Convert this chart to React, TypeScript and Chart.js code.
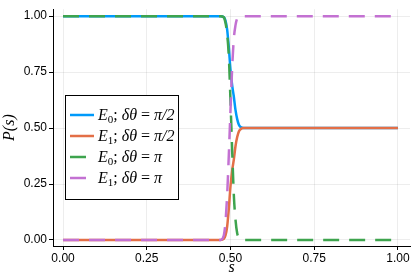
import React, { useEffect, useRef } from "react";
import { Chart, registerables } from "chart.js";

Chart.register(...registerables);

const sValues = [0, 0.47, 0.48, 0.485, 0.49, 0.495, 0.5, 0.505, 0.51, 0.515, 0.52, 0.525, 0.53, 0.54, 1];
const e0HalfPi = [1, 1, 0.995, 0.98, 0.94, 0.86, 0.76, 0.69, 0.64, 0.58, 0.54, 0.515, 0.505, 0.5, 0.5];
const e1HalfPi = [0, 0, 0.005, 0.02, 0.06, 0.14, 0.24, 0.31, 0.36, 0.42, 0.46, 0.485, 0.495, 0.5, 0.5];
const e0Pi = [1, 1, 0.995, 0.97, 0.92, 0.82, 0.62, 0.4, 0.2, 0.09, 0.03, 0.01, 0, 0, 0];
const e1Pi = [0, 0, 0.02, 0.08, 0.2, 0.38, 0.58, 0.77, 0.9, 0.96, 0.99, 1, 1, 1, 1];

const seriesLabels = ["E\u2080; \u03b4\u03b8 = \u03c0/2", "E\u2081; \u03b4\u03b8 = \u03c0/2", "E\u2080; \u03b4\u03b8 = \u03c0", "E\u2081; \u03b4\u03b8 = \u03c0"];
const levelIndex = ["0", "1", "0", "1"];
const angleLabels = ["\u03c0/2", "\u03c0/2", "\u03c0", "\u03c0"];
const seriesColors = ["#009AFA", "#E36F47", "#3EA44E", "#C371D2"];
const seriesDashed = [false, false, true, true];
const tickValues = [0, 0.25, 0.5, 0.75, 1];

const TICK_FONT = "Liberation Sans, Arial, sans-serif";
const MATH_FONT = "Liberation Serif, DejaVu Serif, serif";

export default function App() {
  const ref = useRef<HTMLCanvasElement>(null);
  useEffect(() => {
    document.body.style.margin = "0";
    const series = [e0HalfPi, e1HalfPi, e0Pi, e1Pi];
    const legendPlugin = {
      id: "boxLegend",
      afterDraw(chart: any) {
        const ctx = chart.ctx;
        const x0 = 65, y0 = 95, w = 113, h = 104;
        ctx.save();
        ctx.fillStyle = "#fff";
        ctx.fillRect(x0, y0, w, h);
        ctx.strokeStyle = "#000";
        ctx.lineWidth = 1;
        ctx.strokeRect(x0 + 0.5, y0 + 0.5, w, h);
        levelIndex.forEach((idx, i) => {
          const y = 115 + i * 21;
          ctx.strokeStyle = seriesColors[i];
          ctx.lineWidth = 2.5;
          ctx.setLineDash([]);
          ctx.beginPath();
          ctx.moveTo(70, y);
          ctx.lineTo(seriesDashed[i] ? 86 : 94, y);
          ctx.stroke();
          ctx.fillStyle = "#000";
          ctx.textBaseline = "alphabetic";
          ctx.textAlign = "left";
          const base = y + 5;
          const segs: [string, string, number][] = [
            ["E", "italic 16px " + MATH_FONT, 0],
            [idx, "11px " + MATH_FONT, 3],
            [";", "16px " + MATH_FONT, 0],
            [" \u03b4\u03b8", "italic 16px " + MATH_FONT, 0],
            [" = ", "16px " + MATH_FONT, 0],
            [angleLabels[i], "italic 16px " + MATH_FONT, 0],
          ];
          let x = 98;
          segs.forEach(([t, f, dy]) => {
            ctx.font = f;
            ctx.fillText(t, x, base + dy);
            x += ctx.measureText(t).width;
          });
        });
        ctx.restore();
      },
    };
    const chart = new Chart(ref.current!, {
      type: "line",
      data: {
        datasets: series.map((vals, i) => ({
          label: seriesLabels[i],
          data: sValues.map((s, k) => ({ x: s, y: vals[k] })),
          borderColor: seriesColors[i],
          backgroundColor: seriesColors[i],
          borderWidth: 2.5,
          borderDash: seriesDashed[i] ? [16, 10] : [],
          pointRadius: 0,
          fill: false,
          cubicInterpolationMode: "monotone",
          order: 4 - i,
        })),
      },
      options: {
        animation: false,
        responsive: false,
        devicePixelRatio: 1,
        layout: { padding: { top: 8, right: 5, left: 0, bottom: 0 } },
        plugins: { legend: { display: false }, tooltip: { enabled: false } },
        scales: {
          x: {
            type: "linear",
            min: -0.03,
            max: 1.036,
            afterBuildTicks: (sc: any) => { sc.ticks = tickValues.map((v) => ({ value: v })); },
            afterFit: (sc: any) => { sc.height = 31; },
            ticks: { font: { family: TICK_FONT, size: 12 }, color: "#000", padding: 1, maxRotation: 0, callback: (v: any) => Number(v).toFixed(2) },
            grid: { color: "rgba(0,0,0,0.07)", tickColor: "#000", tickLength: 4, drawTicks: true },
            border: { color: "#000", width: 1 },
            title: { display: true, text: "s", font: { family: MATH_FONT, size: 16, style: "italic" }, color: "#000", padding: { top: -4, bottom: 0 } },
          },
          y: {
            type: "linear",
            min: -0.027,
            max: 1.031,
            afterBuildTicks: (sc: any) => { sc.ticks = tickValues.map((v) => ({ value: v })); },
            afterFit: (sc: any) => { sc.width = 53; },
            ticks: { font: { family: TICK_FONT, size: 12 }, color: "#000", padding: 2, callback: (v: any) => Number(v).toFixed(2) },
            grid: { color: "rgba(0,0,0,0.07)", tickColor: "#000", tickLength: 4, drawTicks: true },
            border: { color: "#000", width: 1 },
            title: { display: true, text: "P(s)", font: { family: MATH_FONT, size: 16, style: "italic" }, color: "#000", padding: { top: 0, bottom: 0 } },
          },
        },
      },
      plugins: [legendPlugin],
    } as any);
    return () => chart.destroy();
  }, []);
  return <canvas ref={ref} width={415} height={277} style={{ display: "block" }} />;
}
